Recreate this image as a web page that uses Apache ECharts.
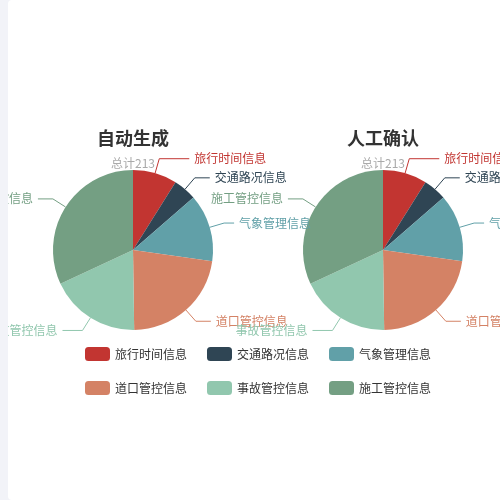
<!DOCTYPE html>
<html>
<head>
<meta charset="utf-8">
<script src="https://cdn.jsdelivr.net/npm/echarts@6/dist/echarts.min.js"></script>
<style>
html,body{margin:0;padding:0;width:500px;height:500px;overflow:hidden;background:#f2f3f8;}
#main{position:absolute;left:8px;top:0;width:500px;height:500px;background:#fff;border-radius:4px;}
</style>
</head>
<body>
<div id="main"></div>
<script>
const categories = ['旅行时间信息','交通路况信息','气象管理信息','道口管控信息','事故管控信息','施工管控信息'];
const autoValues = [19, 10, 29, 48, 39, 68];
const manualValues = [19, 10, 29, 48, 39, 68];
const titles = ['自动生成','人工确认'];
const subtitles = ['总计213','总计213'];
const colors = ['#c23531','#2f4554','#61a0a8','#d48265','#91c7ae','#749f83'];

const FONT = '"Noto Sans CJK SC", "Microsoft YaHei", sans-serif';
const chart = echarts.init(document.getElementById('main'));
function pie(values, cx){
  const len2 = [30, 15, 10, 15, 20, 15];
  return {
    type:'pie',
    radius: 80,
    center:[cx,'50%'],
    startAngle: 90,
    clockwise: true,
    itemStyle:{borderWidth:0},
    label:{show:true, fontSize:12, fontFamily:FONT, overflow:'none'},
    labelLine:{length:15,length2:15},
    labelLayout:{hideOverlap:false},
    emphasis:{scale:false},
    data: categories.map((c,i)=>({
      name:c, value:values[i],
      label:{color:colors[i]},
      labelLine:{length:15, length2:len2[i]}
    }))
  };
}
function title(i, left){
  return {text:titles[i], subtext:subtitles[i], left:left, top:124, textAlign:'center',
    textStyle:{fontSize:18, fontWeight:'bold', color:'#333', fontFamily:FONT},
    subtextStyle:{fontSize:12, color:'#aaa', fontFamily:FONT}};
}
chart.setOption({
  animation:false,
  color: colors,
  textStyle:{fontFamily:FONT},
  title:[title(0,120), title(1,370)],
  legend:{
    data: categories,
    left:'center', top:342, width:360,
    icon:'roundRect', itemWidth:25, itemHeight:14, itemGap:20,
    textStyle:{fontSize:12, color:'#333', fontFamily:FONT}
  },
  series:[pie(autoValues,'25%'), pie(manualValues,'75%')]
});
</script>
</body>
</html>
